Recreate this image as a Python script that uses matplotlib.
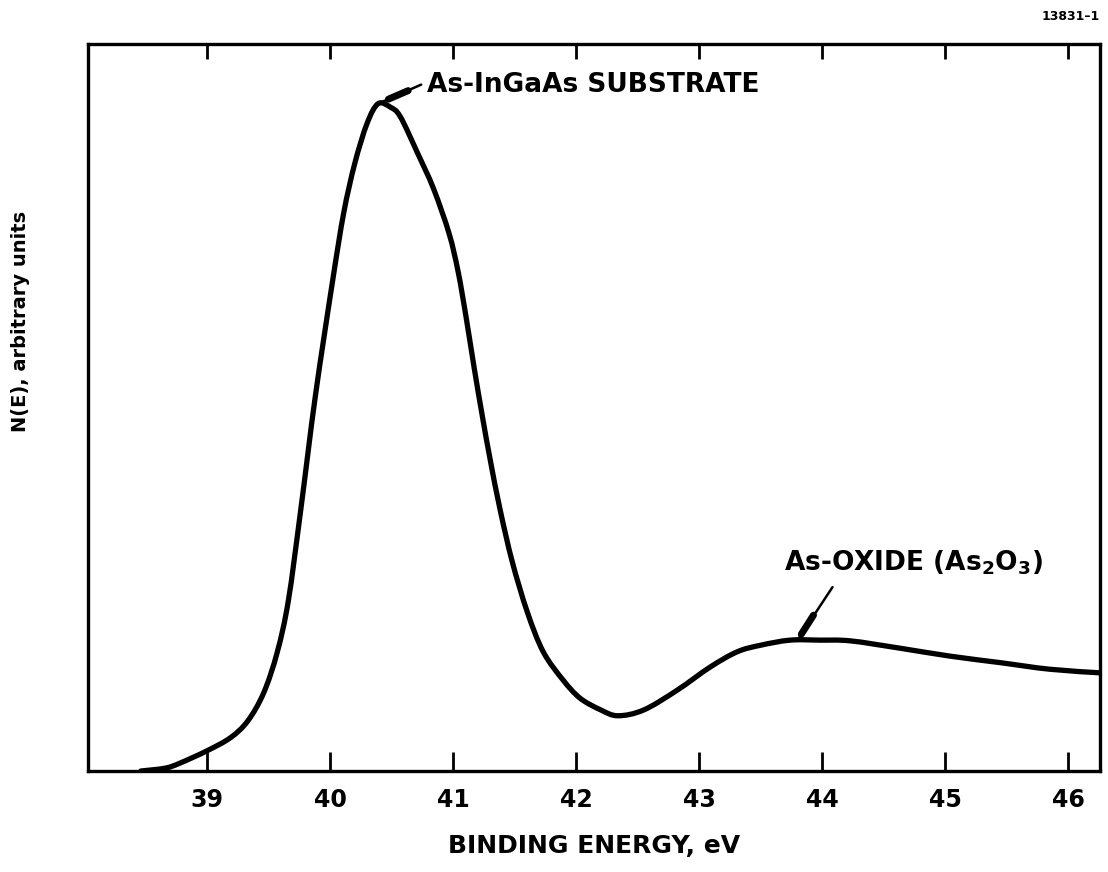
import numpy as np
import matplotlib
matplotlib.use("Agg")
import matplotlib.pyplot as plt
from matplotlib.path import Path
from matplotlib.patches import PathPatch

# Binding energy (eV) and N(E) (arbitrary units, 0-100)
energy = [38.46, 38.66, 38.78, 39.00, 39.19, 39.33, 39.46, 39.57, 39.66, 39.76,
          39.88, 40.02, 40.11, 40.20, 40.30, 40.39, 40.49, 40.57, 40.71, 40.84,
          40.967, 41.041, 41.106, 41.171, 41.236, 41.301, 41.382, 41.480, 41.602, 41.732,
          41.894, 42.033, 42.20, 42.34, 42.55, 42.82, 43.09, 43.31, 43.50, 43.74,
          43.98, 44.23, 44.63, 45.04, 45.45, 45.85, 46.26]
intensity = [0.0, 0.4, 1.1, 2.8, 4.6, 6.9, 10.8, 16.4, 23.5, 35.9,
             51.7, 67.5, 76.8, 83.6, 89.1, 91.8, 91.3, 90.0, 85.0, 80.1,
             73.9, 68.6, 62.3, 55.4, 48.9, 42.8, 35.9, 28.8, 21.9, 16.4,
             12.5, 10.0, 8.4, 7.6, 8.4, 11.1, 14.3, 16.4, 17.3, 18.0,
             18.0, 17.9, 16.9, 15.8, 14.9, 14.0, 13.5]
xticks = [39, 40, 41, 42, 43, 44, 45, 46]
xlabel = "BINDING ENERGY, eV"
ylabel = "N(E), arbitrary units"
label_substrate = "As-InGaAs SUBSTRATE"
label_oxide = "As-OXIDE (As$_\\mathbf{2}$O$_\\mathbf{3}$)"
fig_id = "13831\u20131"

plt.rcParams['font.family'] = ['DejaVu Sans']
plt.rcParams['mathtext.default'] = 'bf'

fig = plt.figure(figsize=(11.08, 8.72), dpi=100)
ax = fig.add_axes([88/1108, 1 - 771/872, (1100-88)/1108, (771-44)/872])

ax.set_xlim(38.03, 46.26)
ax.set_ylim(0, 100)

# Smooth drawing of the measured points: Catmull-Rom segments rendered as
# cubic Bezier curves in display space, passing through every data point.
pts = ax.transData.transform(np.column_stack([energy, intensity]))
verts = [tuple(pts[0])]
codes = [Path.MOVETO]
n = len(pts)
for i in range(n - 1):
    p0 = pts[i - 1] if i > 0 else pts[i]
    p1 = pts[i]
    p2 = pts[i + 1]
    p3 = pts[i + 2] if i + 2 < n else pts[i + 1]
    c1 = p1 + (p2 - p0) / 6.0
    c2 = p2 - (p3 - p1) / 6.0
    verts += [tuple(c1), tuple(c2), tuple(p2)]
    codes += [Path.CURVE4] * 3
verts = ax.transData.inverted().transform(np.array(verts))
ax.add_patch(PathPatch(Path(verts, codes), facecolor='none', edgecolor='black',
                       lw=3.8, capstyle='round', joinstyle='round',
                       transform=ax.transData))

ax.set_xticks(xticks)
ax.set_xticklabels([str(t) for t in xticks], fontsize=17, fontweight='bold')
ax.set_yticks([])
ax.tick_params(axis='x', which='both', direction='in', length=14, width=2,
               top=True, labeltop=False, pad=12)
for s in ax.spines.values():
    s.set_linewidth(2.4)
for t in ax.xaxis.get_major_ticks():
    t.tick2line.set_markersize(11)

fig.text(594/1108, 1 - 846/872, xlabel, ha='center', va='center',
         fontsize=18, fontweight='bold')
fig.text(21/1108, 1 - 321/872, ylabel, ha='center', va='center',
         rotation=90, fontsize=14, fontweight='bold')
fig.text(1100/1108, 1 - 17/872, fig_id, ha='right', va='center',
         fontsize=9, fontweight='bold')

# substrate annotation
ipk = int(np.argmax(intensity))
pk = (energy[ipk], intensity[ipk])
ax.annotate(label_substrate, xy=pk, xytext=(49, 19), textcoords='offset pixels',
            ha='left', va='center', fontsize=19, fontweight='bold')
ax.annotate('', xy=pk, xytext=(43, 19), textcoords='offset pixels',
            arrowprops=dict(arrowstyle='-', lw=1.8, color='black',
                            shrinkA=0, shrinkB=0))
ax.annotate('', xy=pk, xytext=(30, 13), textcoords='offset pixels',
            arrowprops=dict(arrowstyle='-', lw=5, color='black',
                            shrinkA=0, shrinkB=8))

# oxide annotation
ox_x = 43.8
ox = (ox_x, float(np.interp(ox_x, energy, intensity)))
ax.annotate('', xy=ox, xytext=(35, 53), textcoords='offset pixels',
            arrowprops=dict(arrowstyle='-', lw=1.8, color='black',
                            shrinkA=0, shrinkB=0))
ax.annotate('', xy=ox, xytext=(16, 25), textcoords='offset pixels',
            arrowprops=dict(arrowstyle='-', lw=5, color='black',
                            shrinkA=0, shrinkB=5))
ax.annotate(label_oxide, xy=ox, xytext=(-14, 77), textcoords='offset pixels',
            ha='left', va='center', fontsize=19, fontweight='bold')

fig.savefig('out.png', dpi=100)
